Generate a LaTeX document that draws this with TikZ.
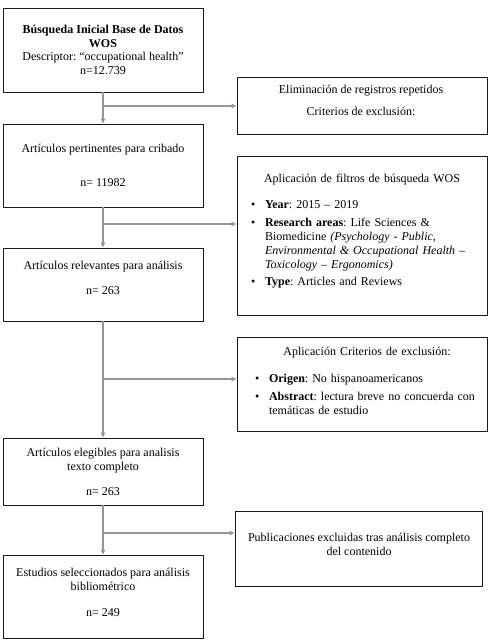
\documentclass[tikz,border=0pt]{standalone}
\usepackage{fontspec}
\setmainfont{Liberation Serif}
\usepackage{xcolor}
\usepackage{tikz}
\usetikzlibrary{calc,arrows.meta,positioning}
\definecolor{flowGray}{RGB}{150,150,150}
\definecolor{boxBlack}{RGB}{25,25,25}
\frenchspacing
\newcommand{\wosItem}[1]{\par\vspace{4pt}\hangindent=14pt\hangafter=1\noindent\makebox[14pt][l]{\textbullet}#1\par}

\begin{document}
\begin{tikzpicture}[x=1pt,y=-1pt,
  box/.style={draw=boxBlack, line width=0.9pt, inner sep=0pt},
  txt/.style={font=\fontsize{12}{13.8}\selectfont\frenchspacing, align=center, inner sep=0pt},
  link/.style={flowGray, line width=1.2pt, -{Triangle[length=5pt,width=4.5pt]}}]
\useasboundingbox (0,0) rectangle (492,643);

% left column
\node[box, minimum width=200pt, minimum height=84pt] (busq) at (103,50) {};
\node[txt] (busqTxt) at (103,50) {\textbf{Búsqueda Inicial Base de Datos}\\ \textbf{WOS}\\ Descriptor: “occupational health”\\ n=12.739};
\node[box, minimum width=200pt, minimum height=83pt] (pert) at (103,165.5) {};
\node[txt] (pertTxt) at (103,165) {Artículos pertinentes para cribado\\[20pt] n= 11982};
\node[box, minimum width=200pt, minimum height=73pt] (relev) at (103,284.5) {};
\node[txt] (relevTxt) at (103,277.5) {Artículos relevantes para análisis\\[11pt] n= 263};
\node[box, minimum width=200pt, minimum height=67pt] (elig) at (103,471.5) {};
\node[txt] (eligTxt) at (103,472) {Artículos elegibles para analisis\\ texto completo\\[12pt] n= 263};
\node[box, minimum width=200pt, minimum height=83pt] (selec) at (103,596.5) {};
\node[txt] (selecTxt) at (103,592.5) {Estudios seleccionados para análisis\\ bibliométrico\\[12pt] n= 249};

% right column
\node[box, minimum width=250pt, minimum height=57pt] (elim) at (362,105.5) {};
\node[txt] (elimTxt) at (361,100.5) {Eliminación de registros repetidos\\[9pt] Criterios de exclusión:};
\node[box, minimum width=250pt, minimum height=159pt] (filt) at (362,235.5) {};
\node[txt, text width=222pt, align=left] (filtTxt) at (362,231) {%
  {\centering Aplicación de filtros de búsqueda WOS\par}\vspace{9pt}
  \wosItem{\textbf{Year}: 2015 – 2019}
  \wosItem{\textbf{Research areas}: Life Sciences \&\newline Biomedicine \textit{(Psychology - Public,\newline Environmental \& Occupational Health} –\newline \textit{Toxicology – Ergonomics)}}
  \wosItem{\textbf{Type}: Articles and Reviews}};
\node[box, minimum width=250pt, minimum height=94pt] (excl) at (362,384) {};
\node[txt, text width=224pt, align=left] (exclTxt) at (367,381) {%
  {\centering Aplicación Criterios de exclusión:\par}\vspace{9pt}
  \wosItem{\textbf{Origen}: No hispanoamericanos}
  \wosItem{\textbf{Abstract}: lectura breve no concuerda con\newline temáticas de estudio}};
\node[box, minimum width=247pt, minimum height=75pt] (publ) at (358.5,548.5) {};
\node[txt] (publTxt) at (359,544) {Publicaciones excluidas tras análisis completo\\ del contenido};

% connectors
\draw[link] (busq) -- (pert);
\draw[link] (pert) -- (relev);
\draw[link] (relev) -- (elig);
\draw[link] (elig) -- (selec);
\coordinate (j1) at (104,106);
\coordinate (j2) at (104,224);
\coordinate (j3) at (104,379);
\coordinate (j4) at (104,533);
\draw[link] (j1) -- (j1 -| elim.west);
\draw[link] (j2) -- (j2 -| filt.west);
\draw[link] (j3) -- (j3 -| excl.west);
\draw[link] (j4) -- (j4 -| publ.west);
\end{tikzpicture}
\end{document}
